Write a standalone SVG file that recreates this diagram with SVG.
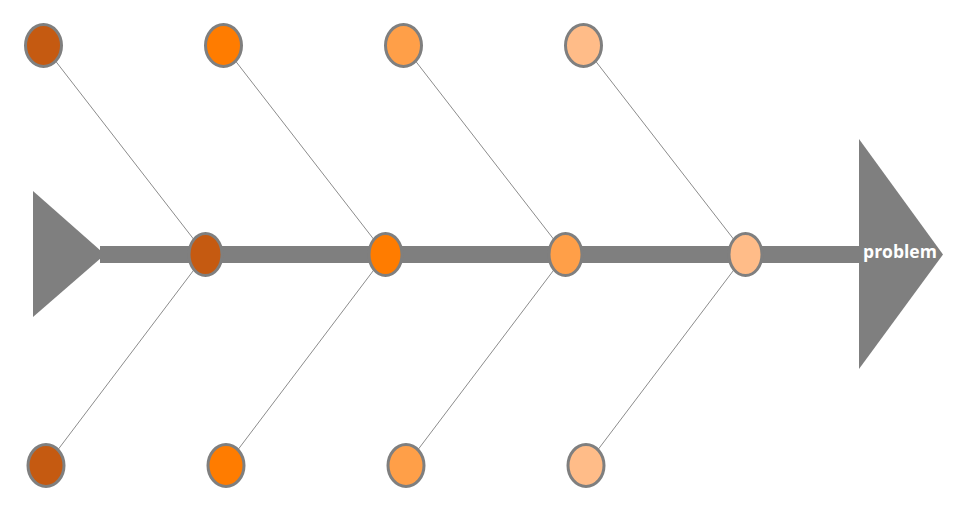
<svg xmlns="http://www.w3.org/2000/svg" width="956" height="508" viewBox="0 0 956 508">
<style>
.bone{stroke:#8c8c8c;stroke-width:1;fill:none}
.n{stroke:#7f7f7f;stroke-width:3}
.c1{fill:#C55A11}.c2{fill:#FF7C00}.c3{fill:#FF9F48}.c4{fill:#FFBC88}
.lbl{font-family:"Open Sans","Liberation Sans",sans-serif;font-weight:bold;font-size:17.5px;fill:#fff}
</style>
<rect width="956" height="508" fill="#fff"/>
<g id="spine">
<polygon points="33,191 105,254.5 33,317" fill="#7f7f7f"/>
<rect x="100" y="246" width="765" height="17" fill="#7f7f7f"/>
<polygon points="859,139 943,254.5 859,369" fill="#7f7f7f"/>
</g>
<g id="connectors">
<line class="bone" x1="43.5" y1="45.5" x2="205.5" y2="254.5"/>
<line class="bone" x1="223.5" y1="45.5" x2="385.5" y2="254.5"/>
<line class="bone" x1="403.5" y1="45.5" x2="565.5" y2="254.5"/>
<line class="bone" x1="583.5" y1="45.5" x2="745.5" y2="254.5"/>
<line class="bone" x1="46" y1="465.5" x2="205.5" y2="254.5"/>
<line class="bone" x1="226" y1="465.5" x2="385.5" y2="254.5"/>
<line class="bone" x1="406" y1="465.5" x2="565.5" y2="254.5"/>
<line class="bone" x1="586" y1="465.5" x2="745.5" y2="254.5"/>
</g>
<g id="top1"><ellipse class="n c1" cx="43.5" cy="45.5" rx="18" ry="21"/></g>
<g id="top2"><ellipse class="n c2" cx="223.5" cy="45.5" rx="18" ry="21"/></g>
<g id="top3"><ellipse class="n c3" cx="403.5" cy="45.5" rx="18" ry="21"/></g>
<g id="top4"><ellipse class="n c4" cx="583.5" cy="45.5" rx="18" ry="21"/></g>
<g id="mid1"><ellipse class="n c1" cx="205.5" cy="254.5" rx="16.5" ry="21"/></g>
<g id="mid2"><ellipse class="n c2" cx="385.5" cy="254.5" rx="16.5" ry="21"/></g>
<g id="mid3"><ellipse class="n c3" cx="565.5" cy="254.5" rx="16.5" ry="21"/></g>
<g id="mid4"><ellipse class="n c4" cx="745.5" cy="254.5" rx="16.5" ry="21"/></g>
<g id="bot1"><ellipse class="n c1" cx="46" cy="465.5" rx="18" ry="21"/></g>
<g id="bot2"><ellipse class="n c2" cx="226" cy="465.5" rx="18" ry="21"/></g>
<g id="bot3"><ellipse class="n c3" cx="406" cy="465.5" rx="18" ry="21"/></g>
<g id="bot4"><ellipse class="n c4" cx="586" cy="465.5" rx="18" ry="21"/></g>
<g id="problem"><text class="lbl" x="900" y="257.5" text-anchor="middle">problem</text></g>
</svg>
